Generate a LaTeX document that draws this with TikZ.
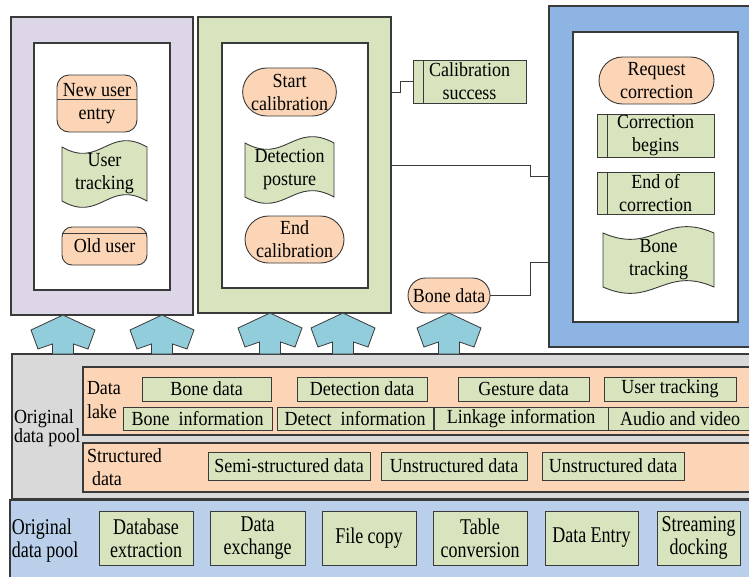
\documentclass[tikz,border=0pt]{standalone}
\usepackage{fontspec}
\setmainfont{Liberation Serif}[FakeStretch=0.9]
\newfontfamily\tallfont{Liberation Serif}[FakeStretch=0.8]
\usetikzlibrary{shapes.misc,calc}
\definecolor{lav}{HTML}{DCD6E7}
\definecolor{grn}{HTML}{D7E4BD}
\definecolor{org}{HTML}{FBD5B5}
\definecolor{blu}{HTML}{8EB4E3}
\definecolor{gry}{HTML}{D9D9D9}
\definecolor{lbl}{HTML}{B9CFEA}
\definecolor{arr}{HTML}{92CDDC}
\definecolor{edgec}{HTML}{3A3A3A}
\newcommand\bx[7]{%
  \pgfmathsetmacro\myCX{(#2+#4)/2}\pgfmathsetmacro\myCY{(#3+#5)/2}%
  \pgfmathsetmacro\myWW{#4-#2}\pgfmathsetmacro\myHH{#5-#3}%
  \node[#6, minimum width=\myWW pt, minimum height=\myHH pt] (#1) at (\myCX,\myCY) {#7};}
\newcommand\tape[7]{%
  \draw[tp] (#2,#3) .. controls ({#2+0.45*(#4-#2)},{#3+#6}) and ({#2+0.55*(#4-#2)},{#3-#6}) .. (#4,#3)
    -- (#4,#5) .. controls ({#2+0.55*(#4-#2)},{#5-#6}) and ({#2+0.45*(#4-#2)},{#5+#6}) .. (#2,#5) -- cycle;
  \node (#1) at ({(#2+#4)/2},{(#3+#5)/2}) {#7};}
\newcommand\uparr[3]{%
  \filldraw[arrs] (#1,#2) -- ({#1+32},{#2+15}) -- ({#1+25},{#2+34}) -- ({#1+10.5},{#2+29})
    -- ({#1+10.5},#3) -- ({#1-10.5},#3) -- ({#1-10.5},{#2+29}) -- ({#1-25},{#2+34})
    -- ({#1-32},{#2+15}) -- cycle;}
\begin{document}
\begin{tikzpicture}[x=1pt,y=-1pt,
  every node/.style={inner sep=0pt, outer sep=0pt, align=center, text=black,
    font=\fontsize{20}{23}\selectfont},
  panel/.style={draw=edgec, line width=1.2pt},
  ob/.style={draw=edgec, line width=0.9pt, fill=org},
  gb/.style={draw=edgec, line width=0.9pt, fill=grn},
  tall/.style={font=\tallfont\fontsize{22.5}{23}\selectfont},
  stad/.style={rounded rectangle},
  tp/.style={draw=edgec, line width=0.9pt, fill=grn},
  arrs/.style={draw=edgec, line width=0.8pt, fill=arr},
  conn/.style={draw=edgec, line width=0.9pt},
  lab/.style={anchor=base west}]
\clip (0,0) rectangle (749,576);
\fill[white] (0,0) rectangle (749,576);
% top panels
\bx{pp}{11}{17}{193}{315}{panel, fill=lav}{}
\bx{ppi}{34}{43}{170}{290}{panel, fill=white}{}
\bx{gp}{198}{17}{391}{313}{panel, fill=grn}{}
\bx{gpi}{222}{43}{368}{288}{panel, fill=white}{}
\bx{bp}{549}{6}{770}{347}{panel, fill=blu}{}
\bx{bpi}{573}{32}{738}{322}{panel, fill=white}{}
% left panel content
\bx{nue}{57}{75}{137}{132}{ob, rounded corners=12pt}{New user\\entry}
\draw[conn] ([yshift=-24pt]nue.north west) -- ([yshift=-24pt]nue.north east);
\tape{ut}{62}{147}{147}{201}{22}{User\\tracking}
\bx{ou}{62}{227}{147}{265}{ob, rounded corners=10pt}{Old user}
\draw[conn] ([yshift=-6pt]ou.north west) -- ([yshift=-6pt]ou.north east);
% middle panel content
\bx{sc}{245}{68}{334}{116}{ob, stad}{Start\\calibration}
\tape{dp}{245}{143}{334}{197}{22}{Detection\\posture}
\bx{ec}{245}{216}{344}{263}{ob, stad}{End\\calibration}
% right panel content
\bx{rc}{599}{57}{714}{104}{ob, stad}{Request\\correction}
\bx{cb}{597}{114}{714}{157}{gb}{Correction\\begins}
\draw[conn] ([xshift=10pt]cb.north west) -- ([xshift=10pt]cb.south west);
\bx{eoc}{597}{172}{714}{214}{gb}{End of\\correction}
\draw[conn] ([xshift=10pt]eoc.north west) -- ([xshift=10pt]eoc.south west);
\tape{bt}{603}{233}{714}{287}{22}{Bone\\tracking}
% middle column items
\bx{cs}{413}{60}{526}{103}{gb}{Calibration\\success}
\draw[conn] ([xshift=10pt]cs.north west) -- ([xshift=10pt]cs.south west);
\bx{bd}{408}{278}{490}{313}{ob, stad}{Bone data}
% connectors
\coordinate (c1) at (400,92);
\coordinate (c2) at (530,165);
\coordinate (c3) at (549,262);
\draw[conn] (gp.east |- c1) -- (c1) |- (cs.west);
\draw[conn] (gp.east) -- (c2) |- (bp.west);
\draw[conn] (bd.east) -- (bd.east -| c2) |- (c3);
% gray data pool
\bx{gray}{12}{354}{770}{499}{panel, fill=gry}{}
\bx{lake}{83}{367}{770}{435}{panel, fill=org}{}
\bx{strd}{83}{443}{770}{492}{panel, fill=org}{}
\node[lab] (g1) at (14,423) {Original};
\node[lab] (g2) at (14,442) {data pool};
\node[lab] (dl1) at (87,394) {Data};
\node[lab] (dl2) at (87,418) {lake};
\node[lab] (sd1) at (87,462) {Structured};
\node[lab] (sd2) at (92,485) {data};
\bx{r1a}{142}{377}{271}{401}{gb}{Bone data}
\bx{r1b}{297}{377}{427}{401}{gb}{Detection data}
\bx{r1c}{458}{377}{589}{401}{gb}{Gesture data}
\bx{r1d}{604}{377}{736}{401}{gb}{User tracking}
\bx{r2a}{123}{407}{272}{430}{gb}{Bone\ \ information}
\bx{r2b}{277}{407}{433}{430}{gb}{Detect\ \ information}
\bx{r2c}{434}{407}{608}{430}{gb}{Linkage information}
\bx{r2d}{608}{407}{752}{430}{gb}{Audio and video}
\bx{s1}{208}{452}{370}{480}{gb}{Semi-structured data}
\bx{s2}{381}{452}{527}{480}{gb}{Unstructured data}
\bx{s3}{542}{452}{684}{480}{gb}{Unstructured data}
% arrows
\uparr{63}{315}{354}
\uparr{162}{315}{354}
\uparr{270}{313}{354}
\uparr{343}{313}{354}
\uparr{449}{313}{354}
% bottom
\bx{bot}{10}{500}{770}{590}{panel, fill=lbl}{}
\node[lab, tall] (o1) at (12,534) {Original};
\node[lab, tall] (o2) at (12,557) {data pool};
\bx{b1}{99}{511}{193}{565}{gb, tall}{Database\\extraction}
\bx{b2}{210}{511}{305}{565}{gb, tall}{Data\\exchange}
\bx{b3}{322}{511}{416}{565}{gb, tall}{File copy}
\bx{b4}{433}{511}{527}{565}{gb, tall}{Table\\conversion}
\bx{b5}{545}{511}{638}{565}{gb, tall}{Data Entry}
\bx{b6}{657}{511}{740}{565}{gb, tall}{Streaming\\docking}
\end{tikzpicture}
\end{document}
